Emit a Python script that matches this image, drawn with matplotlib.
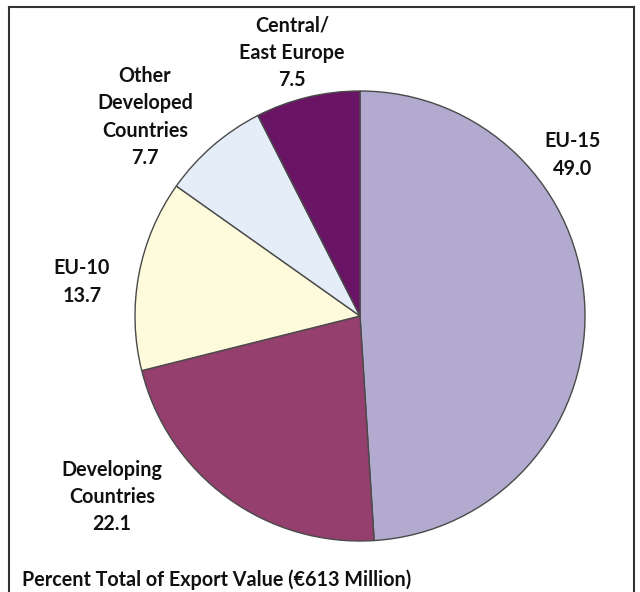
import matplotlib.pyplot as plt

# export shares, percent of total export value
regions = ["EU-15", "Developing\nCountries", "EU-10",
           "Other\nDeveloped\nCountries", "Central/\nEast Europe"]
shares = [49.0, 22.1, 13.7, 7.7, 7.5]
colors = ["#b2aacf", "#943f6d", "#fdfbdb", "#e4edf8", "#6a1465"]
caption = "Percent Total of Export Value (\u20ac613 Million)"

# label centres in image pixels (x, y from top)
label_pos = [(573, 155), (112, 497), (82, 282), (145, 117), (292, 53)]

W, H = 640, 592
fig = plt.figure(figsize=(W / 100, H / 100), dpi=100)
ax = fig.add_axes([0, 0, 1, 1])

ax.pie(shares, colors=colors, startangle=90, counterclock=False,
       center=(360, H - 316), radius=225,
       wedgeprops=dict(edgecolor="#4a4a4a", linewidth=1.0))

font = dict(family="Lato", weight="bold", fontsize=14.2, color="#111111")
for name, val, (x, y) in zip(regions, shares, label_pos):
    ax.text(x, H - y, f"{name}\n{val:.1f}", ha="center", va="center",
            linespacing=1.45, **font)

ax.text(22, H - 580, caption, ha="left", va="center", **font)

# frame round the chart
ax.plot([9, 9], [0, H - 7], color="#333333", lw=1.5)
ax.plot([9, 634], [H - 7, H - 7], color="#333333", lw=1.5)
ax.plot([634, 634], [0, H - 7], color="#333333", lw=1.5)

ax.set_xlim(0, W)
ax.set_ylim(0, H)
ax.set_aspect("equal")
ax.axis("off")

fig.savefig("out.png", dpi=100)
